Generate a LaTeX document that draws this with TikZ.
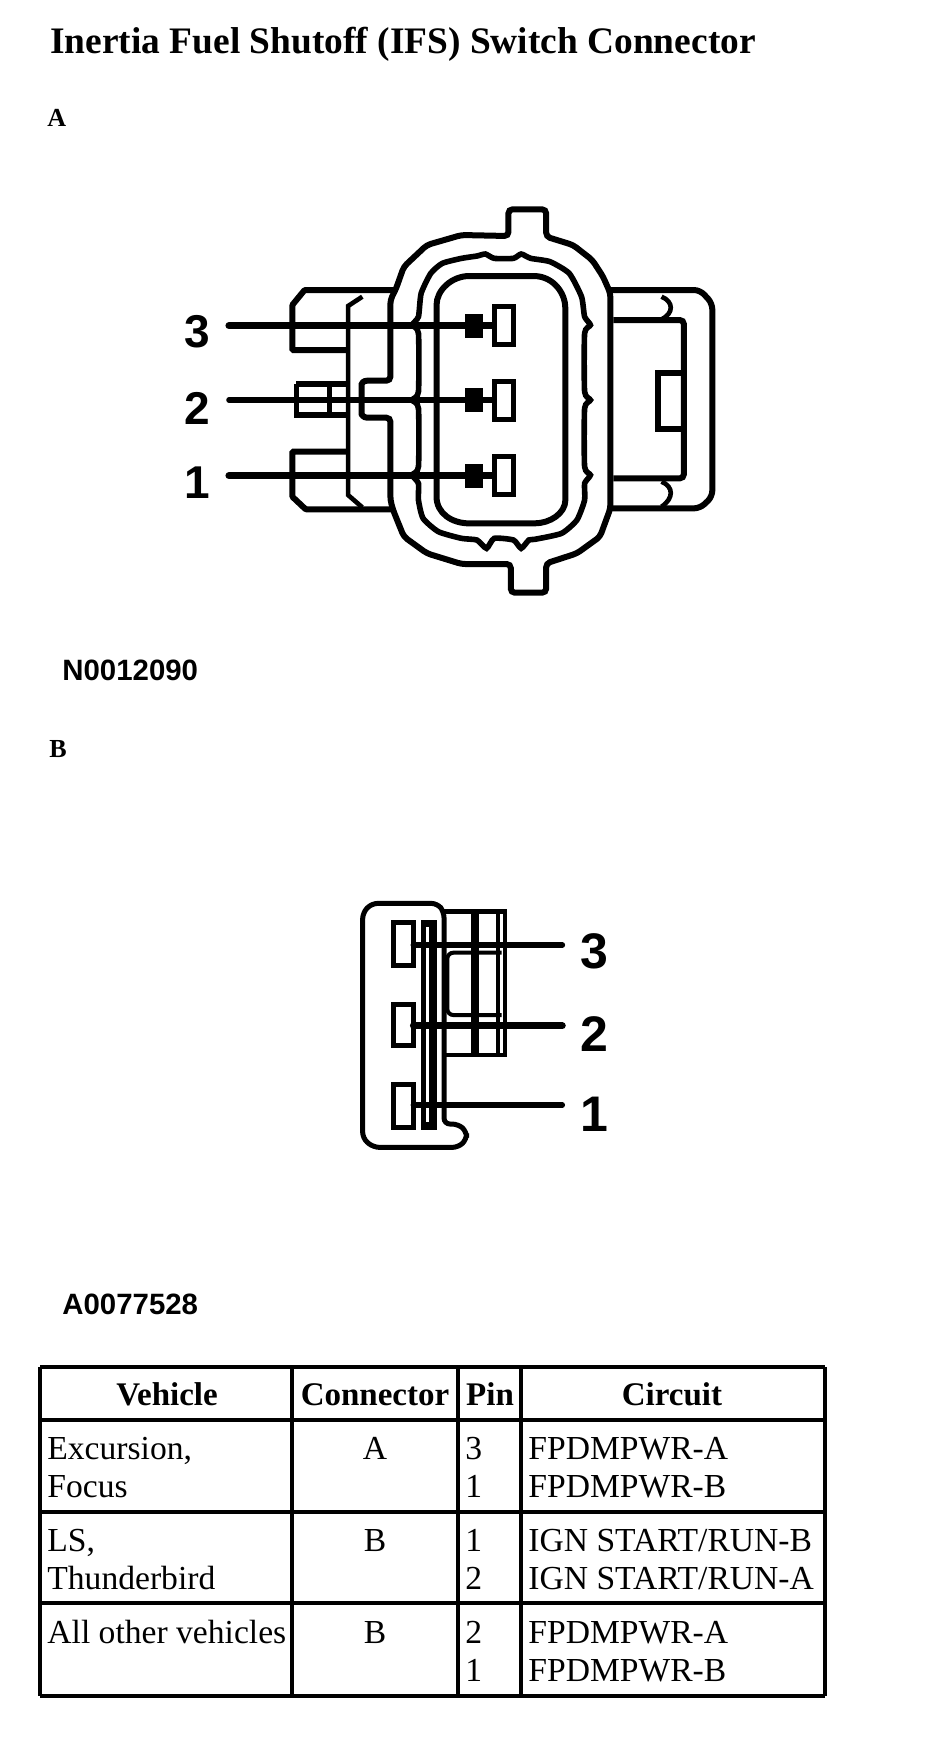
\documentclass[tikz,border=0pt]{standalone}
\usepackage{fontspec}
\setmainfont{Liberation Serif}
\setsansfont{Liberation Sans}
\tikzset{
 body/.style={font=\fontsize{16.8}{18}\selectfont,inner sep=0pt,anchor=base west},
 bodyc/.style={font=\fontsize{16.8}{18}\selectfont,inner sep=0pt,anchor=base},
 head/.style={font=\fontsize{16.5}{18}\selectfont\bfseries,inner sep=0pt,anchor=base},
 tag/.style={font=\fontsize{13}{14}\selectfont\bfseries,inner sep=0pt,anchor=base west},
 code/.style={font=\sffamily\bfseries\fontsize{14.7}{16}\selectfont,inner sep=0pt,anchor=base west},
 numa/.style={font=\sffamily\bfseries\fontsize{23}{24}\selectfont,inner sep=0pt,anchor=base},
 numb/.style={font=\sffamily\bfseries\fontsize{25}{26}\selectfont,inner sep=0pt,anchor=base},
 thick line/.style={line width=3pt,line join=miter},
 mid line/.style={line width=2.3pt},
 gasket line/.style={line width=2.8pt},
 pinbox/.style={draw,fill=white,line width=2.5pt,inner sep=0pt,minimum width=9.2pt,minimum height=19pt},
 tblh/.style={line width=2pt},
 tblv/.style={line width=1.6pt},
}
\begin{document}
\begin{tikzpicture}
\begin{scope}[x=0.5pt,y=-0.5pt]
\useasboundingbox (0,0) rectangle (944,1758);
\node[font=\fontsize{18.7}{20}\selectfont\bfseries,inner sep=0pt,anchor=base west] (title) at (50,53) {Inertia Fuel Shutoff (IFS) Switch Connector};
\node[tag] (taga) at (47,126) {A};
\node[tag] (tagb) at (49,757) {B};
\node[code] (codea) at (62,680) {N0012090};
\node[code] (codeb) at (62,1314) {A0077528};
\end{scope}

% Connector A (zoom coordinates)
\begin{scope}[x=0.19231pt,y=-0.16667pt,shift={(390,540)}]
% outer shell
\draw[thick line,rounded corners=2pt] (932,168) -- (932,88) -- (1030,88) -- (1030,170) -- (1100,195) -- (1150,240) -- (1178,290) -- (1197,340) -- (1197,985) -- (1170,1070) -- (1110,1120) -- (1030,1150) -- (1030,1238) -- (938,1238) -- (938,1152) -- (810,1152) -- (720,1120) -- (660,1070) -- (632,990) -- (625,960) -- (625,713) -- (575,713) .. controls (555,713) and (550,703) .. (550,690) -- (550,625) .. controls (550,610) and (555,602) .. (575,602) -- (625,602) -- (625,360) -- (640,325) -- (660,260) -- (720,195) -- (810,165) -- cycle;
% gasket
\draw[gasket line] plot[smooth cycle,tension=0.35] coordinates {(810,235) (850,228) (872,222) (895,235) (945,235) (965,222) (990,235) (1040,245) (1090,280) (1122,350) (1130,410) (1145,435) (1130,460) (1130,635) (1145,660) (1130,685) (1130,860) (1145,885) (1130,910) (1130,960) (1110,1020) (1070,1060) (1000,1078) (985,1080) (965,1105) (945,1080) (895,1075) (875,1105) (850,1080) (810,1075) (750,1055) (710,1015) (698,960) (698,910) (682,885) (698,860) (698,685) (682,660) (698,635) (698,460) (682,435) (698,410) (705,340) (730,280) (760,250)};
% inner shell
\draw[thick line] (830,288) -- (1000,288) .. controls (1050,290) and (1080,340) .. (1080,385) -- (1080,960) .. controls (1080,1000) and (1040,1030) .. (1000,1030) -- (830,1030) .. controls (785,1030) and (745,1000) .. (745,950) -- (745,375) .. controls (745,330) and (785,288) .. (830,288) -- cycle;
% left latch
\draw[thick line,rounded corners=0.5pt] (635,330) -- (402,330) -- (370,375) -- (370,510) -- (518,510);
\draw[thick line,rounded corners=0.5pt] (632,988) -- (405,988) -- (370,950) -- (370,815) -- (518,815);
\draw[mid line] (552,350) -- (515,378) -- (515,945) -- (552,982);
\draw[line width=2.6pt] (380,612) -- (518,612) (380,612) -- (380,705) -- (518,705) (466,612) -- (466,705);
% right latch
\draw[thick line,rounded corners=3pt] (1197,330) -- (1430,330) -- (1462,370) -- (1462,950) -- (1430,985) -- (1197,985);
\draw[thick line,rounded corners=2pt] (1205,420) -- (1388,420) -- (1388,895) -- (1205,895);
\draw[thick line] (1388,578) -- (1322,578) -- (1322,748) -- (1388,748);
\draw[mid line] (1330,350) .. controls (1362,365) and (1362,400) .. (1330,418);
\draw[mid line] (1330,905) .. controls (1362,920) and (1362,955) .. (1330,980);
% pins
\coordinate (as3) at (205,437);
\coordinate (as2) at (205,660);
\coordinate (as1) at (205,887);
\coordinate (ae3) at (892,437);
\coordinate (ae2) at (892,660);
\coordinate (ae1) at (892,887);
\draw[line width=3.4pt,line cap=round] (as3) -- (ae3);
\draw[line width=2.6pt,line cap=round] (as2) -- (ae2);
\draw[line width=3.4pt,line cap=round] (as1) -- (ae1);
\foreach \n/\y in {3/437,2/660,1/887}{
 \fill (818,\y-36) rectangle (866,\y+36);
 \node[pinbox] (pa\n) at (920,\y) {};
}
\node[numa] (la3) at (122,503) {3};
\node[numa] (la2) at (122,733) {2};
\node[numa] (la1) at (122,955) {1};
\end{scope}

% Connector B (zoom coordinates)
\begin{scope}[x=0.16667pt,y=-0.16667pt,shift={(990,2610)}]
\draw[line width=2.5pt,rounded corners=3pt] (342,125) -- (322,100) -- (125,100) -- (98,128) -- (98,805) -- (130,832) -- (385,832) -- (410,808) -- (410,785) -- (385,762) -- (342,762) -- cycle;
\draw[line width=2.3pt] (342,125) -- (525,125) -- (525,555) -- (342,555);
\draw[line width=4pt] (435,125) -- (435,555);
\draw[line width=2pt] (505,125) -- (505,555);
\draw[line width=2pt,rounded corners=3pt] (515,248) -- (352,248) -- (352,435) -- (515,435);
\fill (272,150) rectangle (322,780);
\fill[white] (287,172) rectangle (297,757);
\foreach \a/\b in {158/285,403/525,643/772}{
 \draw[line width=2.5pt] (190,\a) rectangle (250,\b);
}
\coordinate (be3) at (250,225);
\coordinate (be2) at (250,467);
\coordinate (be1) at (250,705);
\coordinate (bs3) at (697,225);
\coordinate (bs2) at (697,467);
\coordinate (bs1) at (697,705);
\draw[line width=2.8pt,line cap=round] (be3) -- (bs3);
\draw[line width=3.4pt,line cap=round] (be2) -- (bs2);
\draw[line width=2.7pt,line cap=round] (be1) -- (bs1);
\node[numb] (lb3) at (793,296) {3};
\node[numb] (lb2) at (793,543) {2};
\node[numb] (lb1) at (793,783) {1};
\end{scope}

% Table
\begin{scope}[x=0.5pt,y=-0.5pt]
\foreach \y in {1367,1420,1512,1603,1696}{
 \draw[tblh] (40,\y) -- (825,\y);
}
\foreach \x in {40,292,458,521,825}{
 \draw[tblv] (\x,1367) -- (\x,1696);
}
\node[head] (h1) at (167,1405) {Vehicle};
\node[head] (h2) at (375,1405) {Connector};
\node[head] (h3) at (490,1405) {Pin};
\node[head] (h4) at (672,1405) {Circuit};
\node[body] (r1a) at (47,1459) {Excursion,};
\node[body] (r1b) at (47,1497) {Focus};
\node[bodyc] (r1c) at (375,1459) {A};
\node[body] (r1d) at (465,1459) {3};
\node[body] (r1e) at (465,1497) {1};
\node[body] (r1f) at (528,1459) {FPDMPWR-A};
\node[body] (r1g) at (528,1497) {FPDMPWR-B};
\node[body] (r2a) at (47,1551) {LS,};
\node[body] (r2b) at (47,1589) {Thunderbird};
\node[bodyc] (r2c) at (375,1551) {B};
\node[body] (r2d) at (465,1551) {1};
\node[body] (r2e) at (465,1589) {2};
\node[body] (r2f) at (528,1551) {IGN START/RUN-B};
\node[body] (r2g) at (528,1589) {IGN START/RUN-A};
\node[body] (r3a) at (47,1643) {All other vehicles};
\node[bodyc] (r3c) at (375,1643) {B};
\node[body] (r3d) at (465,1643) {2};
\node[body] (r3e) at (465,1681) {1};
\node[body] (r3f) at (528,1643) {FPDMPWR-A};
\node[body] (r3g) at (528,1681) {FPDMPWR-B};
\end{scope}
\end{tikzpicture}
\end{document}
